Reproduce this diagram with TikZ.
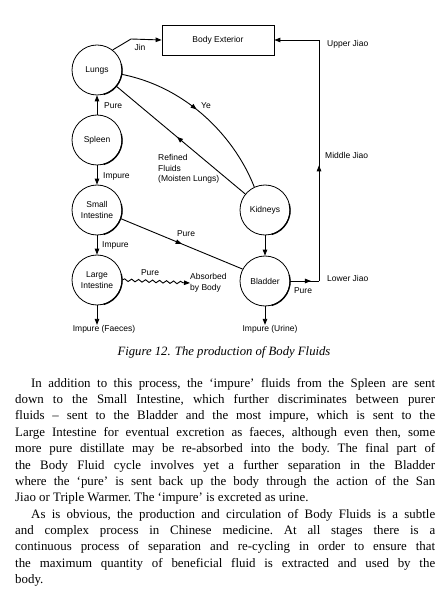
\documentclass[tikz,border=0pt]{standalone}
\usepackage{fontspec}
\setmainfont{Liberation Serif}
\setsansfont{Liberation Sans}
\usetikzlibrary{arrows.meta,decorations.markings,decorations.pathmorphing}
\begin{document}
\begin{tikzpicture}[x=1pt,y=-1pt,
  organ/.style={circle,draw,line width=0.8pt,minimum size=50pt,inner sep=0pt,align=center,
    font=\sffamily\fontsize{8.5}{10.5}\selectfont},
  lbl/.style={font=\sffamily\fontsize{8.5}{10.5}\selectfont,inner sep=0pt},
  flow/.style={line width=0.9pt,-{Triangle[length=6pt,width=4.5pt]}},
  link/.style={line width=0.9pt},
  midarrow/.style={postaction={decorate},decoration={markings,
    mark=at position #1 with {\arrow{Triangle[length=6pt,width=4.5pt]}}}},
  shade/.style={line width=1.3pt},
]
\useasboundingbox (0,0) rectangle (438,593);

% organs
\node[organ] (lungs) at (97,70) {Lungs};
\node[organ] (spleen) at (97,140) {Spleen};
\node[organ] (si) at (97,210) {Small\\Intestine};
\node[organ] (li) at (97,280) {Large\\Intestine};
\node[organ] (kid) at (265,210) {Kidneys};
\node[organ] (bla) at (265,281) {Bladder};
\foreach \n in {lungs,spleen,si,li,kid,bla}
  \draw[shade] (\n.-75) arc[start angle=75,end angle=-15,radius=25];

\node[draw,line width=0.8pt,minimum width=112pt,minimum height=30pt,lbl] (ext) at (218,40) {Body Exterior};

% labels / end points
\node[lbl,anchor=west] (absorbed) at (190,283) {\begin{tabular}{@{}l@{}}Absorbed\\by Body\end{tabular}};
\node[lbl] (faeces) at (104,329) {Impure (Faeces)};
\node[lbl] (urine) at (270,329) {Impure (Urine)};
\coordinate (jinbend) at (131,39);
\coordinate (lj) at (319,281);
\coordinate (uj) at (319,40);

% connectors
\draw[flow] (lungs.52) -- (jinbend) -- (ext.west);
\node[lbl] at (140,47) {Jin};

\draw[flow] (spleen.north) -- (lungs.south);
\node[lbl,anchor=west] at (104,106) {Pure};
\draw[flow] (spleen.south) -- (si.north);
\node[lbl,anchor=west] at (103,176) {Impure};
\draw[flow] (si.south) -- (li.south |- li.north);
\node[lbl,anchor=west] at (102,245) {Impure};
\draw[flow] (li.south) -- (li.south |- faeces.north);

\draw[flow,decorate,decoration={snake,amplitude=1.3pt,segment length=7pt,post length=6pt}] (li.east) -- (absorbed.west);
\node[lbl] at (150,273) {Pure};

\draw[link,midarrow=0.5] (si.-20) -- (bla.152);
\node[lbl] at (186,234) {Pure};

\draw[link,midarrow=0.46] (lungs.-10) .. controls (190,88) and (236,140) .. (kid.115);
\node[lbl] at (206,106) {Ye};

\draw[link,midarrow=0.53] (kid.141) -- (lungs.-40);
\node[lbl,anchor=west] at (158,169) {\begin{tabular}{@{}l@{}}Refined\\Fluids\\(Moisten Lungs)\end{tabular}};

\draw[flow] (kid.south) -- (bla.north);
\draw[flow] (bla.south) -- (bla.south |- urine.north);

\draw[link,midarrow=0.72] (bla.east) -- (lj);
\draw[link,midarrow=0.48] (lj) -- (uj);
\draw[flow] (uj) -- (ext.east);
\node[lbl] at (303,291) {Pure};
\node[lbl,anchor=west] at (327,278) {Lower Jiao};
\node[lbl,anchor=west] at (325,155) {Middle Jiao};
\node[lbl,anchor=west] at (327,44) {Upper Jiao};

% caption and text
\node (cap) at (224,352) {\fontsize{12.7}{14}\selectfont\itshape Figure 12. The production of Body Fluids};

\node[anchor=north west,inner sep=0pt] (body) at (15,378) {\parbox{420pt}{%
\fontsize{12.9}{16.35}\selectfont\frenchspacing\hyphenpenalty=10000\tolerance=9999\emergencystretch=20pt
\hspace*{16pt}In addition to this process, the `impure' fluids from the Spleen are sent\linebreak
down to the Small Intestine, which further discriminates between purer\linebreak
fluids -- sent to the Bladder and the most impure, which is sent to the\linebreak
Large Intestine for eventual excretion as faeces, although even then, some\linebreak
more pure distillate may be re-absorbed into the body. The final part of\linebreak
the Body Fluid cycle involves yet a further separation in the Bladder\linebreak
where the `pure' is sent back up the body through the action of the San\linebreak
Jiao or Triple Warmer. The `impure' is excreted as urine.\par
\hspace*{16pt}As is obvious, the production and circulation of Body Fluids is a subtle\linebreak
and complex process in Chinese medicine. At all stages there is a\linebreak
continuous process of separation and re-cycling in order to ensure that\linebreak
the maximum quantity of beneficial fluid is extracted and used by the\linebreak
body.}};
\end{tikzpicture}
\end{document}
